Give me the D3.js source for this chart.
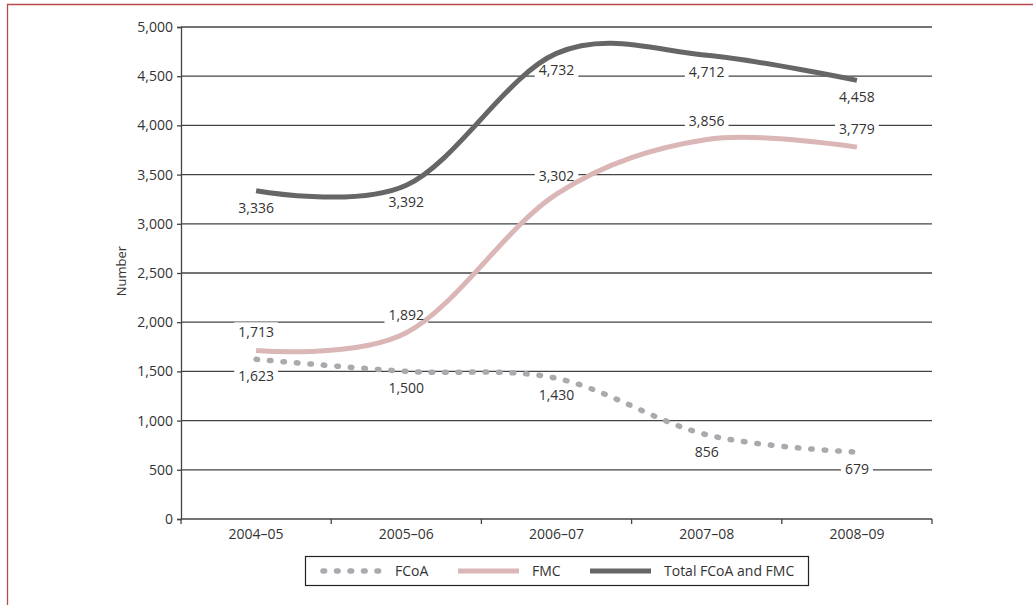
<!DOCTYPE html>
<html>
<head>
<meta charset="utf-8">
<script src="https://cdn.jsdelivr.net/npm/d3@7"></script>
<style>
  body { margin: 0; background: #fff; }
  text { font-family: "Open Sans", "Noto Sans", sans-serif; fill: #333; }
</style>
</head>
<body>
<div id="container"></div>
<script>
let categories = ['2004–05', '2005–06', '2006–07', '2007–08', '2008–09'],
  fcoa = [1623, 1500, 1430, 856, 679],
  fmc = [1713, 1892, 3302, 3856, 3779],
  total = [3336, 3392, 4732, 4712, 4458],
  y_ticks = [0, 500, 1000, 1500, 2000, 2500, 3000, 3500, 4000, 4500, 5000],
  width = 1033,
  height = 605,
  plot = { left: 181, right: 932, top: 27, bottom: 519 },
  font_size = 14

let series = [
  { name: 'FCoA', values: fcoa, color: '#a9aaae', dash: '1.6 11.9', cap: 'round', dy: 17, w: 5.5 },
  { name: 'FMC', values: fmc, color: '#dbb6b6', dash: null, cap: 'butt', dy: -18, w: 5 },
  { name: 'Total FCoA and FMC', values: total, color: '#666666', dash: null, cap: 'butt', dy: 17, w: 5 }
]

let svg = d3.select('#container')
  .append('svg')
  .attr('width', width)
  .attr('height', height)

// frame
svg.append('path')
  .attr('d', 'M7.5,605 L7.5,4.5 L1033,4.5')
  .attr('fill', 'none')
  .attr('stroke', '#b94a4c')
  .attr('stroke-width', 1.3)

let scale_x = d3.scaleBand()
  .domain(categories)
  .range([plot.left, plot.right])

let scale_y = d3.scaleLinear()
  .domain([0, 5000])
  .range([plot.bottom, plot.top])

let cx = function (i) {
  return scale_x(categories[i]) + scale_x.bandwidth() / 2
}

let fmt = d3.format(',')

// grid lines
svg.append('g')
  .selectAll('line')
  .data(y_ticks.filter(d => d > 0)).enter().append('line')
  .attr('x1', plot.left).attr('x2', plot.right)
  .attr('y1', d => scale_y(d)).attr('y2', d => scale_y(d))
  .attr('stroke', '#444').attr('stroke-width', 1.3)

// y axis
let y_axis = d3.axisLeft(scale_y).tickValues(y_ticks).tickSize(4).tickPadding(4).tickFormat(fmt)
let gy = svg.append('g')
  .attr('transform', 'translate(' + plot.left + ',0)')
  .call(y_axis)
gy.select('.domain').attr('stroke', '#444').attr('stroke-width', 1.3)
gy.selectAll('.tick line').attr('stroke', '#444').attr('stroke-width', 1.3)
gy.selectAll('.tick text').attr('font-size', font_size).attr('fill', '#333')
  .style('font-family', '"Open Sans", sans-serif')

// x axis
let bounds = categories.map(c => scale_x(c)).concat([plot.right])
let gx = svg.append('g')
gx.append('line')
  .attr('x1', plot.left).attr('x2', plot.right)
  .attr('y1', plot.bottom).attr('y2', plot.bottom)
  .attr('stroke', '#444').attr('stroke-width', 1.3)
gx.selectAll('.xt')
  .data(bounds).enter().append('line')
  .attr('x1', d => d).attr('x2', d => d)
  .attr('y1', plot.bottom).attr('y2', plot.bottom + 5)
  .attr('stroke', '#444').attr('stroke-width', 1.3)
gx.selectAll('text')
  .data(categories).enter().append('text')
  .attr('x', (d, i) => cx(i))
  .attr('y', plot.bottom + 15)
  .attr('dy', '0.35em')
  .attr('text-anchor', 'middle')
  .attr('font-size', font_size)
  .text(d => d)

svg.append('text')
  .attr('transform', 'translate(121,271) rotate(-90)')
  .attr('text-anchor', 'middle')
  .attr('dy', '0.35em')
  .attr('font-size', 13)
  .text('Number')

// data labels
let labels = []
series.forEach(s => {
  s.values.forEach((v, i) => {
    labels.push({ x: cx(i), y: scale_y(v) + s.dy, text: fmt(v) })
  })
})
let g_bg = svg.append('g')

// lines
let line_generator = d3.line()
  .x((d, i) => cx(i))
  .y(d => scale_y(d))
  .curve(d3.curveCardinal)

series.forEach(s => {
  svg.append('path')
    .attr('d', line_generator(s.values))
    .attr('fill', 'none')
    .attr('stroke', s.color)
    .attr('stroke-width', s.w)
    .attr('stroke-linecap', s.cap)
    .attr('stroke-dasharray', s.dash)
})

let label_text = svg.append('g')
  .selectAll('text')
  .data(labels).enter().append('text')
  .attr('x', d => d.x).attr('y', d => d.y)
  .attr('dy', '0.35em')
  .attr('text-anchor', 'middle')
  .attr('font-size', font_size)
  .text(d => d.text)

// white boxes behind labels so they cut the grid lines
label_text.each(function (d) {
  let b = this.getBBox()
  g_bg.append('rect')
    .attr('x', b.x - 4).attr('y', b.y)
    .attr('width', b.width + 8).attr('height', b.height)
    .attr('fill', '#fff')
})

// legend
let legend = svg.append('g')
legend.append('rect')
  .attr('x', 305.5).attr('y', 556.5)
  .attr('width', 503).attr('height', 29)
  .attr('fill', '#fff').attr('stroke', '#222').attr('stroke-width', 1.2)
let leg_x = [321, 458, 590]
series.forEach((s, i) => {
  legend.append('line')
    .attr('x1', leg_x[i] + (s.dash ? 2 : 0)).attr('x2', leg_x[i] + 61)
    .attr('y1', 571).attr('y2', 571)
    .attr('stroke', s.color).attr('stroke-width', s.w)
    .attr('stroke-linecap', s.cap)
    .attr('stroke-dasharray', s.dash)
  legend.append('text')
    .attr('x', leg_x[i] + 74).attr('y', 571)
    .attr('dy', '0.35em')
    .attr('font-size', font_size)
    .text(s.name)
})
</script>
</body>
</html>
